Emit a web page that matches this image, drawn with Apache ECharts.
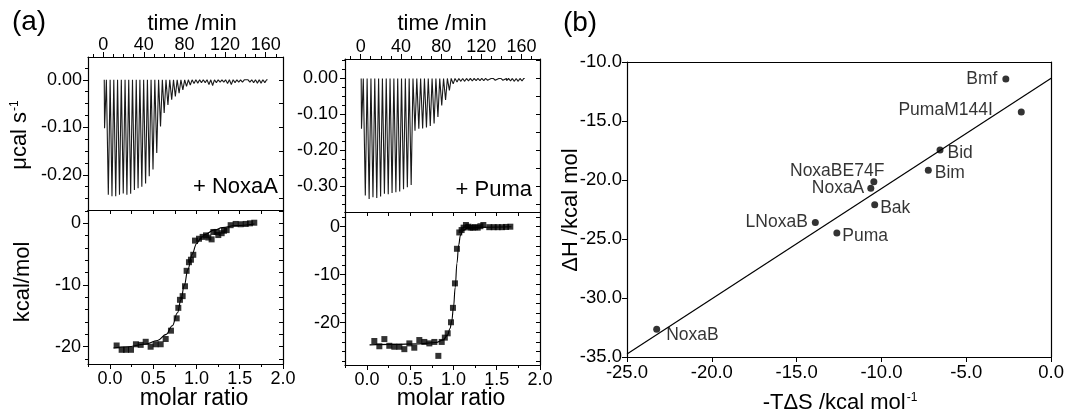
<!DOCTYPE html>
<html>
<head>
<meta charset="utf-8">
<script src="https://cdn.jsdelivr.net/npm/echarts@6.0.0/dist/echarts.min.js"></script>
<style>
  html, body { margin: 0; padding: 0; background: #fff; }
  #chart { width: 1067px; height: 412px; }
</style>
</head>
<body>
<div id="chart"></div>
<script>
// ---- (a) left: + NoxaA ----
const noxaTimes = [1.0, 4.7, 8.3, 12.0, 15.7, 19.4, 23.0, 26.7, 30.4, 34.0, 37.7, 41.4, 45.0, 48.7,
  52.4, 56.1, 59.7, 63.4, 67.1, 70.7, 74.4, 78.1, 81.7, 85.4, 89.1, 92.8, 96.4, 100.1, 103.8,
  107.4, 111.1, 114.8, 118.4, 122.1, 125.8, 129.5, 133.1, 136.8, 140.5, 144.1, 147.8, 151.5, 155.1, 158.8];
const noxaPeaks = [-0.102, -0.242, -0.245, -0.245, -0.242, -0.239, -0.242, -0.240, -0.232, -0.228,
  -0.225, -0.218, -0.203, -0.189, -0.154, -0.098, -0.070, -0.053, -0.042, -0.035, -0.028, -0.021,
  -0.014, -0.011, -0.008, -0.007, -0.006, -0.006, -0.010, -0.012, -0.006, -0.005, -0.005, -0.008,
  -0.010, -0.006, -0.005, -0.005, -0.004, -0.005, -0.006, -0.007, -0.007, -0.006];
const noxaRatio = [0.077, 0.135, 0.185, 0.243, 0.30, 0.355, 0.413, 0.47, 0.528, 0.586, 0.644, 0.705,
  0.771, 0.79, 0.809, 0.84, 0.867, 0.886, 0.913, 0.936, 0.963, 0.983, 1.029, 1.071, 1.11, 1.137,
  1.175, 1.195, 1.233, 1.252, 1.291, 1.318, 1.349, 1.395, 1.453, 1.511, 1.569, 1.618, 1.668];
const noxaHeat = [-19.8, -20.5, -20.5, -20.5, -19.6, -19.7, -19.2, -20.0, -19.6, -19.6, -18.75, -17.4,
  -15.4, -13.7, -12.4, -11.8, -10.2, -7.7, -6.3, -5.9, -5.1, -2.8, -2.5, -2.2, -1.95, -2.3,
  -2.6, -1.4, -1.4, -1.9, -1.6, -1.2, -1.1, -0.3, -0.1, -0.15, -0.1, 0, 0.1];
const noxaFitRatio = [0.04, 0.2, 0.4, 0.55, 0.65, 0.72, 0.78, 0.82, 0.86, 0.9, 0.95, 1.0, 1.05, 1.1, 1.2, 1.3, 1.45, 1.67];
const noxaFitHeat = [-20.2, -20.0, -19.6, -19.0, -18.0, -16.6, -14.5, -12.4, -10.0, -7.5, -5.0, -3.3, -2.4, -1.8, -1.1, -0.7, -0.35, -0.1];

// ---- (a) right: + Puma ----
const pumaTimes = [0.5, 4.3, 8.1, 11.9, 15.7, 19.5, 23.3, 27.1, 30.9, 34.7, 38.5, 42.3, 46.1, 49.9,
  53.7, 57.5, 61.3, 65.1, 68.9, 72.7, 76.5, 80.3, 84.1, 87.9, 91.7, 95.5, 99.3, 103.1, 106.9,
  110.7, 114.5, 118.3, 122.1, 125.9, 129.7, 133.5, 137.3, 141.1, 144.9, 148.7, 152.5, 156.3, 160.1];
const pumaPeaks = [-0.140, -0.325, -0.335, -0.330, -0.332, -0.328, -0.320, -0.322, -0.318, -0.316,
  -0.314, -0.308, -0.302, -0.296, -0.145, -0.140, -0.139, -0.136, -0.132, -0.125, -0.107, -0.075,
  -0.060, -0.033, -0.015, -0.010, -0.008, -0.008, -0.007, -0.007, -0.006, -0.006, -0.006, -0.005,
  -0.005, -0.005, -0.005, -0.005, -0.006, -0.007, -0.008, -0.008, -0.007];
const pumaRatio = [0.085, 0.143, 0.201, 0.258, 0.316, 0.374, 0.432, 0.49, 0.547, 0.605, 0.663, 0.721,
  0.779, 0.825, 0.864, 0.9, 0.933, 0.971, 0.994, 1.017, 1.04, 1.067, 1.094, 1.117, 1.144, 1.172,
  1.195, 1.222, 1.249, 1.28, 1.311, 1.345, 1.414, 1.465, 1.511, 1.561, 1.607, 1.657];
const pumaHeat = [-23.8, -24.9, -23.4, -24.8, -25.0, -25.0, -25.5, -24.3, -25.2, -23.6, -24.0, -24.3,
  -24.0, -26.9, -24.0, -23.1, -22.2, -19.9, -16.9, -11.8, -4.6, -1.2, -0.7, -0.2, 0.35, 0,
  -0.2, -0.2, -0.1, -0.2, 0.1, 0.35, -0.1, -0.1, -0.1, -0.1, -0.05, 0];
const pumaFitRatio = [0.03, 0.3, 0.6, 0.8, 0.88, 0.93, 0.96, 0.98, 1.0, 1.02, 1.04, 1.06, 1.08, 1.11, 1.16, 1.3, 1.67];
const pumaFitHeat = [-24.6, -24.5, -24.4, -24.1, -23.6, -22.6, -21.2, -19.6, -16.8, -12.6, -7.6, -3.8, -1.8, -0.8, -0.3, -0.1, 0];

// ---- (b) enthalpy / entropy compensation ----
const peptides = ['Bmf', 'PumaM144I', 'Bid', 'Bim', 'NoxaBE74F', 'NoxaA', 'Bak', 'LNoxaB', 'Puma', 'NoxaB'];
const minusTdS = [-2.67, -1.76, -6.55, -7.24, -10.45, -10.63, -10.4, -13.9, -12.63, -23.25];
const deltaH = [-11.44, -14.24, -17.46, -19.18, -20.14, -20.7, -22.1, -23.6, -24.5, -32.65];
const fitTdS = [-25, 0];
const fitH = [-34.75, -11.38];

// ---- tick labels ----
const timeTicks = [0, 40, 80, 120, 160];
const powerTicksNoxa = [0, -0.1, -0.2];
const powerTicksPuma = [0, -0.1, -0.2, -0.3];
const ratioTicks = [0, 0.5, 1.0, 1.5, 2.0];
const heatTicks = [0, -10, -20];
const tdsTicks = [-25, -20, -15, -10, -5, 0];
const dhTicks = [-35, -30, -25, -20, -15, -10];

// label placement for (b)
const labelPlace = {
  Bmf: { position: 'left', distance: 5 },
  PumaM144I: { position: 'left', distance: 25, offset: [0, -2] },
  Bid: { position: 'right', distance: 4, offset: [0, 3] },
  Bim: { position: 'right', distance: 3, offset: [0, 3] },
  NoxaBE74F: { position: 'left', distance: 0, offset: [14, -10] },
  NoxaA: { position: 'left', distance: 3 },
  Bak: { position: 'right', distance: 2, offset: [0, 3] },
  LNoxaB: { position: 'left', distance: 4 },
  Puma: { position: 'right', distance: 2, offset: [0, 3] },
  NoxaB: { position: 'right', distance: 6, offset: [0, 6] }
};

const FONT = "'Liberation Sans', Arial, Helvetica, sans-serif";
const chart = echarts.init(document.getElementById('chart'), null, { renderer: 'canvas' });

function steps(a, b, d) {
  const out = [];
  for (let v = a; v <= b + d / 1000; v += d) out.push(+v.toFixed(4));
  return out;
}

const xAxes = [];
const yAxes = [];

function labelAxis(grid, pos, range, labels, fmt, margin, size) {
  return {
    type: 'value', gridIndex: grid, position: pos, min: range[0], max: range[1],
    axisLine: { show: true, onZero: false, lineStyle: { color: '#000', width: 1.2 } },
    axisTick: { show: true, customValues: labels, length: 5, lineStyle: { color: '#000', width: 1 } },
    axisLabel: { show: true, customValues: labels, formatter: fmt, margin: margin,
      fontSize: size, color: '#000', fontFamily: FONT },
    splitLine: { show: false }
  };
}

function tickAxis(grid, pos, range, ticks, len, inside, line) {
  return {
    type: 'value', gridIndex: grid, position: pos, min: range[0], max: range[1],
    axisLine: { show: line, onZero: false, lineStyle: { color: '#000', width: 1.2 } },
    axisTick: { show: ticks.length > 0, customValues: ticks, inside: inside, length: len,
      lineStyle: { color: '#000', width: 1 } },
    axisLabel: { show: false },
    splitLine: { show: false }
  };
}

function panel(p) {
  const size = p.size || 18;
  const xi = xAxes.push(labelAxis(p.grid, p.xPos, p.xRange, p.xLabels, p.xFmt, p.xMargin, size)) - 1;
  if (p.xMinor) xAxes.push(tickAxis(p.grid, p.xPos, p.xRange, p.xMinor, 3, false, false));
  xAxes.push(tickAxis(p.grid, p.xPos === 'top' ? 'bottom' : 'top', p.xRange, p.xMirror || [], 4, true, true));
  const yi = yAxes.push(labelAxis(p.grid, 'left', p.yRange, p.yLabels, p.yFmt, p.yMargin, size)) - 1;
  if (p.yMinor) yAxes.push(tickAxis(p.grid, 'left', p.yRange, p.yMinor, 3, false, false));
  yAxes.push(tickAxis(p.grid, 'right', p.yRange, p.yMirror || [], 4, true, true));
  return { xi, yi };
}

const fmtInt = v => String(v);
const fmt1 = v => v.toFixed(1);
const fmt2 = v => v.toFixed(2);

const pA1 = panel({ grid: 0, xPos: 'top', xRange: [-15, 177], xLabels: timeTicks, xFmt: fmtInt, xMargin: 3,
  xMinor: steps(-10, 170, 10), yRange: [-0.274, 0.048], yLabels: powerTicksNoxa, yFmt: fmt2, yMargin: 6,
  yMinor: steps(-0.25, 0.025, 0.025), yMirror: steps(-0.25, 0.0, 0.05) });
const pA2 = panel({ grid: 1, xPos: 'bottom', xRange: [-0.254, 2.0], xLabels: ratioTicks, xFmt: fmt1, xMargin: 6,
  xMinor: steps(-0.25, 1.75, 0.25), xMirror: steps(-0.25, 1.75, 0.25), yRange: [-22.8, 2.16],
  yLabels: heatTicks, yFmt: fmtInt, yMargin: 7, yMinor: steps(-22, 2, 2), yMirror: steps(-22, 2, 2) });
const pB1 = panel({ grid: 2, xPos: 'top', xRange: [-15.6, 178.3], xLabels: timeTicks, xFmt: fmtInt, xMargin: 3,
  xMinor: steps(-10, 170, 10), yRange: [-0.371, 0.054], yLabels: powerTicksPuma, yFmt: fmt2, yMargin: 7,
  yMinor: steps(-0.35, 0.05, 0.025), yMirror: steps(-0.35, 0.05, 0.05) });
const pB2 = panel({ grid: 3, xPos: 'bottom', xRange: [-0.254, 2.0], xLabels: ratioTicks, xFmt: fmt1, xMargin: 6,
  xMinor: steps(-0.25, 1.75, 0.25), xMirror: steps(-0.25, 1.75, 0.25), yRange: [-28.8, 3.06],
  yLabels: heatTicks, yFmt: fmtInt, yMargin: 5, yMinor: steps(-28, 2, 2), yMirror: steps(-28, 2, 2) });
const pC = panel({ grid: 4, xPos: 'bottom', xRange: [-25, 0], xLabels: tdsTicks, xFmt: fmt1, xMargin: 6,
  yRange: [-35, -10], yLabels: dhTicks, yFmt: fmt1, yMargin: 5, size: 18.5 });

// raw power trace: baseline, sharp drop to each injection peak, quick return
function trace(times, peaks) {
  const pts = [];
  times.forEach((t, i) => {
    pts.push([t, 0], [t + 0.3, peaks[i]], [t + 2.1, 0]);
  });
  pts.push([times[times.length - 1] + 3, 0]);
  return pts;
}
const zip = (a, b) => a.map((v, i) => [v, b[i]]);

const traceStyle = { color: '#1a1a1a', width: 1.1 };
const fitStyle = { color: '#000', width: 1.1 };
const sq = { type: 'scatter', symbol: 'rect', symbolSize: 6, itemStyle: { color: '#000' }, silent: true };

const series = [
  { type: 'line', xAxisIndex: pA1.xi, yAxisIndex: pA1.yi, data: trace(noxaTimes, noxaPeaks),
    showSymbol: false, lineStyle: traceStyle, silent: true },
  { type: 'line', xAxisIndex: pA2.xi, yAxisIndex: pA2.yi, data: zip(noxaFitRatio, noxaFitHeat),
    showSymbol: false, smooth: 0.4, smoothMonotone: 'x', lineStyle: fitStyle, silent: true },
  Object.assign({}, sq, { xAxisIndex: pA2.xi, yAxisIndex: pA2.yi, data: zip(noxaRatio, noxaHeat) }),
  { type: 'line', xAxisIndex: pB1.xi, yAxisIndex: pB1.yi, data: trace(pumaTimes, pumaPeaks),
    showSymbol: false, lineStyle: traceStyle, silent: true },
  { type: 'line', xAxisIndex: pB2.xi, yAxisIndex: pB2.yi, data: zip(pumaFitRatio, pumaFitHeat),
    showSymbol: false, smooth: 0.4, smoothMonotone: 'x', lineStyle: fitStyle, silent: true },
  Object.assign({}, sq, { xAxisIndex: pB2.xi, yAxisIndex: pB2.yi, data: zip(pumaRatio, pumaHeat) }),
  { type: 'line', xAxisIndex: pC.xi, yAxisIndex: pC.yi, data: zip(fitTdS, fitH),
    showSymbol: false, lineStyle: { color: '#000', width: 1.2 }, silent: true },
  { type: 'scatter', xAxisIndex: pC.xi, yAxisIndex: pC.yi, symbolSize: 7, itemStyle: { color: '#000' },
    silent: true,
    label: { show: true, formatter: '{b}', fontSize: 17.5, color: '#000', fontFamily: FONT },
    data: peptides.map((name, i) => ({ name, value: [minusTdS[i], deltaH[i]], label: labelPlace[name] })) }
];

function txt(x, y, text, size, opts) {
  opts = opts || {};
  return {
    type: 'text', x, y, rotation: opts.rot || 0, silent: true,
    style: Object.assign({
      text, fill: '#000', font: size + 'px ' + FONT,
      align: opts.align || 'center', verticalAlign: 'middle',
      textAlign: opts.align || 'center', textVerticalAlign: 'middle'
    }, opts.rich ? { rich: opts.rich } : {})
  };
}
const supRich = (size) => ({
  m: { fontSize: size, fontFamily: FONT, fill: '#000' },
  s: { fontSize: Math.round(size * 0.55), fontFamily: FONT, fill: '#000', verticalAlign: 'top', padding: [0, 0, 0, 1] }
});

const option = {
  backgroundColor: '#fff',
  animation: false,
  grid: [
    { left: 88, top: 57, width: 195, height: 153 },
    { left: 88, top: 210, width: 195, height: 154 },
    { left: 345, top: 59, width: 195, height: 153 },
    { left: 345, top: 212, width: 195, height: 153 },
    { left: 627, top: 62, width: 425, height: 295 }
  ],
  xAxis: xAxes,
  yAxis: yAxes,
  series: series,
  graphic: [
    txt(29, 22, '(a)', 28),
    txt(580, 23, '(b)', 28),
    txt(192, 24, 'time /min', 22),
    txt(442, 24, 'time /min', 22),
    txt(278, 187, '+ NoxaA', 22, { align: 'right' }),
    txt(532, 190, '+ Puma', 22, { align: 'right' }),
    txt(194, 399, 'molar ratio', 23),
    txt(451, 399, 'molar ratio', 23),
    txt(23, 282, 'kcal/mol', 22, { rot: Math.PI / 2 }),
    txt(20, 135, '{m|μcal s}{s|-1}', 22, { rot: Math.PI / 2, rich: supRich(22) }),
    txt(571, 210, 'ΔH /kcal mol', 22, { rot: Math.PI / 2 }),
    txt(840, 403, '{m|-TΔS /kcal mol}{s|-1}', 22, { rich: supRich(22) })
  ]
};

chart.setOption(option);
</script>
</body>
</html>
